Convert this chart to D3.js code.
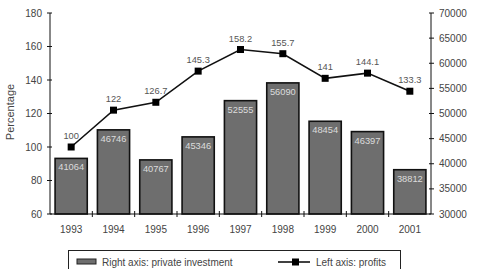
<!DOCTYPE html>
<html><head><meta charset="utf-8">
<script src="https://cdn.jsdelivr.net/npm/d3@7"></script>
<style>
body{margin:0;background:#fff;}
svg{display:block;font-family:"Liberation Sans",Arial,sans-serif;}
</style></head>
<body><svg id="c" width="487" height="269"></svg>
<script>
const years = ["1993","1994","1995","1996","1997","1998","1999","2000","2001"];
const investment = [41064,46746,40767,45346,52555,56090,48454,46397,38812];
const profits = [100,122,126.7,145.3,158.2,155.7,141,144.1,133.3];
const leftTicks = [60,80,100,120,140,160,180];
const rightTicks = [30000,35000,40000,45000,50000,55000,60000,65000,70000];
const seriesNames = ["Right axis: private investment","Left axis: profits"];

const svg = d3.select("#c");
const L = 50, R = 431, T = 13, B = 214;
const x = d3.scaleBand().domain(years).range([L,R]).paddingInner(0.24).paddingOuter(0.12);
const yL = d3.scaleLinear().domain([60,180]).range([B,T]);
const yR = d3.scaleLinear().domain([30000,70000]).range([B,T]);
const textCol = "#444";

// bars
svg.append("g").selectAll("rect").data(investment).join("rect")
  .attr("x",(d,i)=>x(years[i])).attr("y",d=>yR(d))
  .attr("width",x.bandwidth()).attr("height",d=>B-yR(d))
  .attr("fill","#6e6e6e").attr("stroke","#111").attr("stroke-width",1.6);
svg.append("g").selectAll("text").data(investment).join("text")
  .attr("x",(d,i)=>x(years[i])+x.bandwidth()/2).attr("y",d=>yR(d)+12)
  .attr("text-anchor","middle").attr("font-size",9.3).attr("fill","#dcdcdc")
  .text(d=>d);

// axes
const ax = svg.append("g").attr("stroke","#111").attr("stroke-width",1);
ax.append("line").attr("x1",L).attr("x2",L).attr("y1",T).attr("y2",B);
ax.append("line").attr("x1",R).attr("x2",R).attr("y1",T).attr("y2",B);
ax.append("line").attr("x1",L).attr("x2",R).attr("y1",B).attr("y2",B);
leftTicks.forEach(t=>{
  ax.append("line").attr("x1",L-3).attr("x2",L+2).attr("y1",yL(t)).attr("y2",yL(t));
  svg.append("text").attr("x",L-8).attr("y",yL(t)+3.5).attr("text-anchor","end")
    .attr("font-size",10).attr("fill",textCol).text(t);
});
rightTicks.forEach(t=>{
  ax.append("line").attr("x1",R-2).attr("x2",R+3).attr("y1",yR(t)).attr("y2",yR(t));
  svg.append("text").attr("x",R+8).attr("y",yR(t)+3.5).attr("text-anchor","start")
    .attr("font-size",10).attr("fill",textCol).text(t);
});
years.forEach((yv,i)=>{
  if(i>0){
    const bx = x(yv) - x.step()*x.paddingInner()/2;
    ax.append("line").attr("x1",bx).attr("x2",bx).attr("y1",B-3).attr("y2",B+3);
  }
  svg.append("text").attr("x",x(yv)+x.bandwidth()/2).attr("y",B+19).attr("text-anchor","middle")
    .attr("font-size",10).attr("fill",textCol).text(yv);
});
svg.append("text").attr("transform",`translate(14,112) rotate(-90)`).attr("text-anchor","middle")
  .attr("font-size",11).attr("fill",textCol).text("Percentage");

// line
const line = d3.line().x((d,i)=>x(years[i])+x.bandwidth()/2).y(d=>yL(d));
svg.append("path").datum(profits).attr("d",line).attr("fill","none").attr("stroke","#111").attr("stroke-width",1.6);
svg.append("g").selectAll("rect").data(profits).join("rect")
  .attr("x",(d,i)=>x(years[i])+x.bandwidth()/2-3.5).attr("y",d=>yL(d)-3.5)
  .attr("width",7).attr("height",7).attr("fill","#000");
svg.append("g").selectAll("text").data(profits).join("text")
  .attr("x",(d,i)=>x(years[i])+x.bandwidth()/2).attr("y",d=>yL(d)-8)
  .attr("text-anchor","middle").attr("font-size",9.3).attr("fill","#555").text(d=>d);

// legend
const lg = svg.append("g");
lg.append("rect").attr("x",68.5).attr("y",250.5).attr("width",332).attr("height",30)
  .attr("fill","#fff").attr("stroke","#222").attr("stroke-width",1);
lg.append("rect").attr("x",77).attr("y",259).attr("width",19).attr("height",5)
  .attr("fill","#6e6e6e").attr("stroke","#222").attr("stroke-width",1);
lg.append("text").attr("x",102).attr("y",266).attr("font-size",10).attr("fill",textCol).text(seriesNames[0]);
lg.append("line").attr("x1",278).attr("x2",310).attr("y1",262).attr("y2",262).attr("stroke","#111").attr("stroke-width",1.6);
lg.append("rect").attr("x",292).attr("y",258.5).attr("width",7).attr("height",7).attr("fill","#000");
lg.append("text").attr("x",316).attr("y",266).attr("font-size",10).attr("fill",textCol).text(seriesNames[1]);
</script></body></html>
